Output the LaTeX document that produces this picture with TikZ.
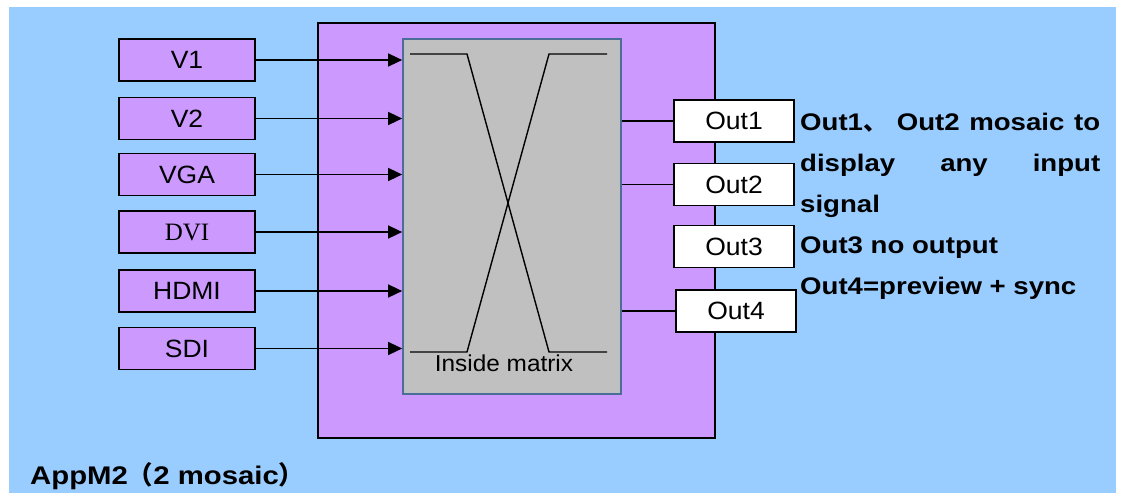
\documentclass[tikz,border=0pt]{standalone}
\usepackage{fontspec}
\setmainfont{Liberation Sans}
\newfontfamily\serifdvi{Liberation Serif}
\newfontfamily\boxfont[FakeStretch=1.06]{Liberation Sans}
\newfontfamily\notefont[FakeStretch=1.15]{Liberation Sans}
\newfontfamily\cjkfont{Noto Sans CJK SC}
\usetikzlibrary{arrows.meta}

\definecolor{bgblue}{HTML}{99CCFF}
\definecolor{boxpurple}{HTML}{CC99FF}
\definecolor{mtxgrey}{HTML}{C0C0C0}
\definecolor{mtxedge}{HTML}{4A6E98}

\tikzset{
  inbox/.style={draw, fill=boxpurple, line width=1.5pt, minimum width=136pt, minimum height=42pt,
    inner sep=0pt, font=\boxfont\fontsize{25}{25}\selectfont},
  outbox/.style={draw, fill=white, line width=1.3pt, minimum width=120pt, minimum height=42pt,
    inner sep=0pt, font=\boxfont\fontsize{25}{25}\selectfont},
  note/.style={anchor=base west, inner sep=0pt, font=\notefont\bfseries\fontsize{24}{24}\selectfont},
  feed/.style={line width=1.5pt, -{Triangle[length=14pt,width=13pt]}},
}

\begin{document}
\begin{tikzpicture}[x=1pt,y=-1pt]
  \useasboundingbox (0,0) rectangle (1121,493);
  \fill[bgblue] (9,7) rectangle (1116,493);

  \node[draw, fill=boxpurple, line width=1.7pt, minimum width=397pt, minimum height=415pt, inner sep=0pt] (dev) at (516.5,230.5) {};
  \node[draw=mtxedge, fill=mtxgrey, line width=1.7pt, minimum width=218pt, minimum height=355pt, inner sep=0pt] (mtx) at (512,216.5) {};

  \draw[line width=1.4pt] (410,54) -- (467,54) -- (549,352) -- (607,352);
  \draw[line width=1.4pt] (410,352) -- (467,352) -- (549,54) -- (607,54);
  \node[inner sep=0pt, font=\boxfont\fontsize{23}{23}\selectfont] (label) at (504,363) {Inside matrix};

  \node[inbox] (v1) at (187,60) {V1};
  \node[inbox] (v2) at (187,118.5) {V2};
  \node[inbox] (vga) at (187,174.5) {VGA};
  \node[inbox, font=\serifdvi\fontsize{25}{25}\selectfont] (dvi) at (187,232) {DVI};
  \node[inbox] (hdmi) at (187,291) {HDMI};
  \node[inbox] (sdi) at (187,348.5) {SDI};

  \foreach \src in {v1,v2,vga,dvi,hdmi,sdi}
    \draw[feed] (\src.east) -- (\src.east -| mtx.west);

  \node[outbox] (o1) at (734,121) {Out1};
  \node[outbox] (o2) at (734,184.5) {Out2};
  \node[outbox] (o3) at (734,246.5) {Out3};
  \node[outbox] (o4) at (736,311) {Out4};

  \foreach \dst in {o1,o2,o4}
    \draw[line width=1.5pt] (\dst.west -| mtx.east) -- (\dst.west);

  \node[note] (n1) at (800,130) {\makebox[300pt][s]{Out1{\cjkfont 、}\ Out2 mosaic to}};
  \node[note] (n2) at (800,171) {\makebox[300pt][s]{display any input}};
  \node[note] (n3) at (800,212) {signal};
  \node[note] (n4) at (800,253) {Out3 no output};
  \node[note] (n5) at (800,294) {Out4=preview + sync};

  \node[note, font=\notefont\bfseries\fontsize{25.5}{25.5}\selectfont] (title) at (30,484) {AppM2{\cjkfont（}2 mosaic{\cjkfont）}};
\end{tikzpicture}
\end{document}
